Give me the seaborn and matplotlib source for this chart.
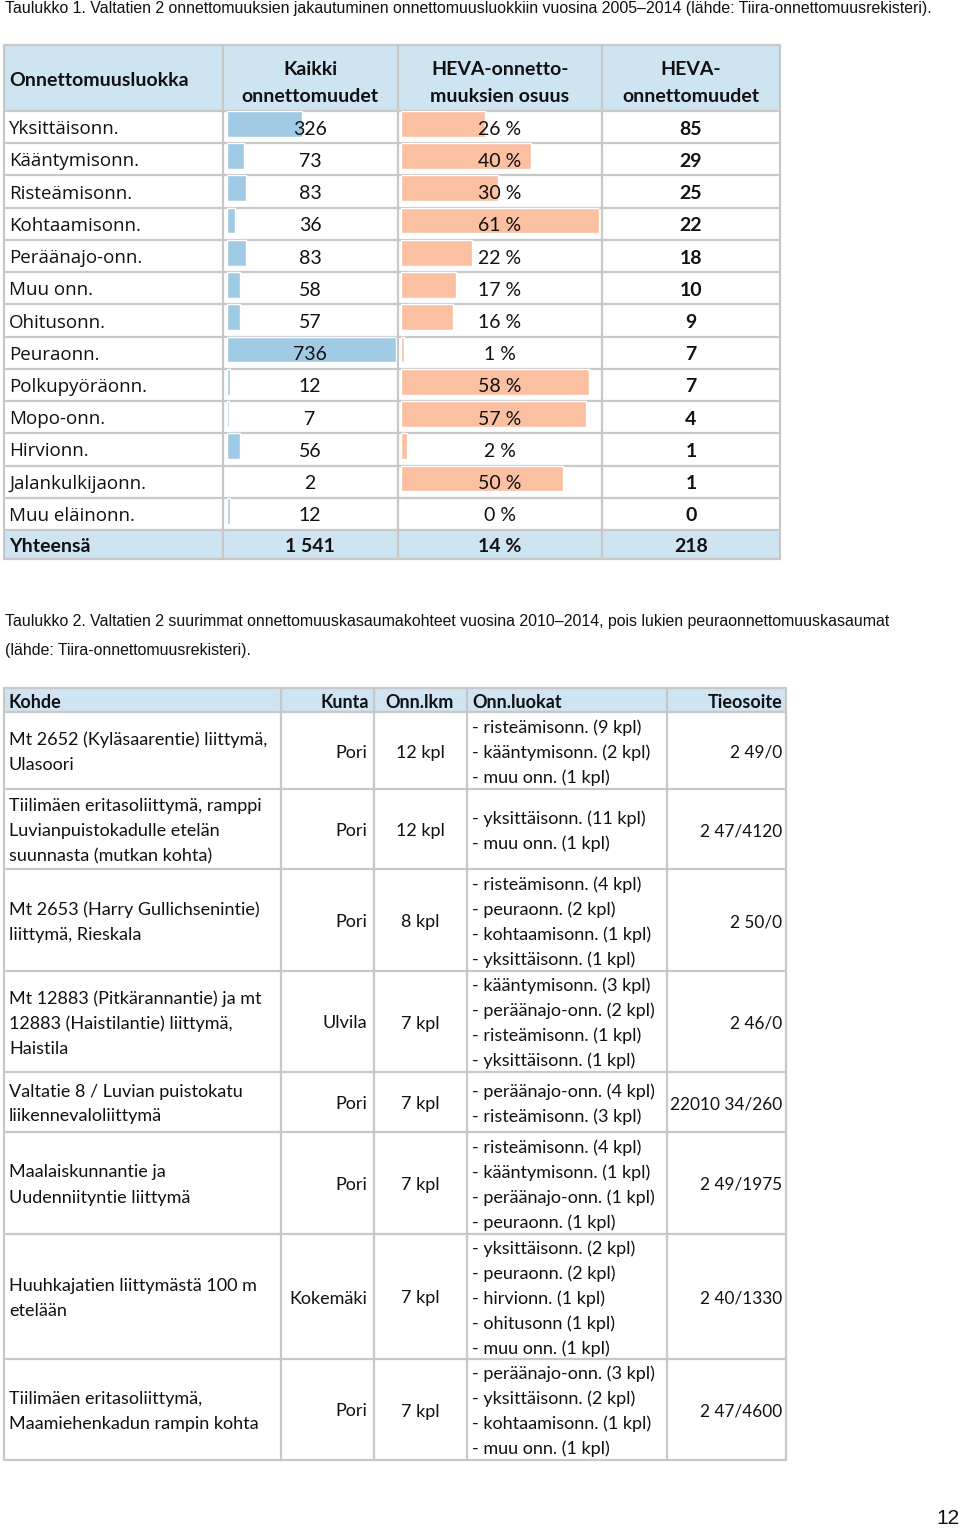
import numpy as np
import pandas as pd
import matplotlib
matplotlib.use('Agg')
import matplotlib.pyplot as plt
import seaborn as sns

## data for table 1
classes = ['Yksittäisonn.', 'Kääntymisonn.', 'Risteämisonn.', 'Kohtaamisonn.',
           'Peräänajo-onn.', 'Muu onn.', 'Ohitusonn.', 'Peuraonn.',
           'Polkupyöräonn.', 'Mopo-onn.', 'Hirvionn.', 'Jalankulkijaonn.',
           'Muu eläinonn.']
kaikki = [326, 73, 83, 36, 83, 58, 57, 736, 12, 7, 56, 2, 12]
heva_pct = [26, 40, 30, 61, 22, 17, 16, 1, 58, 57, 2, 50, 0]
heva_n = [85, 29, 25, 22, 18, 10, 9, 7, 7, 4, 1, 1, 0]
total_row = ['Yhteensä', '1 541', '14 %', '218']
headers1 = ['Onnettomuusluokka', 'Kaikki\nonnettomuudet',
            'HEVA-onnetto-\nmuuksien osuus', 'HEVA-\nonnettomuudet']

## data for table 2
headers2 = ['Kohde', 'Kunta', 'Onn.lkm', 'Onn.luokat', 'Tieosoite']
kohde = [['Mt 2652 (Kyläsaarentie) liittymä,', 'Ulasoori'],
         ['Tiilimäen eritasoliittymä, ramppi', 'Luvianpuistokadulle etelän', 'suunnasta (mutkan kohta)'],
         ['Mt 2653 (Harry Gullichsenintie)', 'liittymä, Rieskala'],
         ['Mt 12883 (Pitkärannantie) ja mt', '12883 (Haistilantie) liittymä,', 'Haistila'],
         ['Valtatie 8 / Luvian puistokatu', 'liikennevaloliittymä'],
         ['Maalaiskunnantie ja', 'Uudenniityntie liittymä'],
         ['Huuhkajatien liittymästä 100 m', 'etelään'],
         ['Tiilimäen eritasoliittymä,', 'Maamiehenkadun rampin kohta']]
kunta = ['Pori', 'Pori', 'Pori', 'Ulvila', 'Pori', 'Pori', 'Kokemäki', 'Pori']
onn_lkm = ['12 kpl', '12 kpl', '8 kpl', '7 kpl', '7 kpl', '7 kpl', '7 kpl', '7 kpl']
luokat = [['risteämisonn. (9 kpl)', 'kääntymisonn. (2 kpl)', 'muu onn. (1 kpl)'],
          ['yksittäisonn. (11 kpl)', 'muu onn. (1 kpl)'],
          ['risteämisonn. (4 kpl)', 'peuraonn. (2 kpl)', 'kohtaamisonn. (1 kpl)', 'yksittäisonn. (1 kpl)'],
          ['kääntymisonn. (3 kpl)', 'peräänajo-onn. (2 kpl)', 'risteämisonn. (1 kpl)', 'yksittäisonn. (1 kpl)'],
          ['peräänajo-onn. (4 kpl)', 'risteämisonn. (3 kpl)'],
          ['risteämisonn. (4 kpl)', 'kääntymisonn. (1 kpl)', 'peräänajo-onn. (1 kpl)', 'peuraonn. (1 kpl)'],
          ['yksittäisonn. (2 kpl)', 'peuraonn. (2 kpl)', 'hirvionn. (1 kpl)', 'ohitusonn (1 kpl)', 'muu onn. (1 kpl)'],
          ['peräänajo-onn. (3 kpl)', 'yksittäisonn. (2 kpl)', 'kohtaamisonn. (1 kpl)', 'muu onn. (1 kpl)']]
tieosoite = ['2 49/0', '2 47/4120', '2 50/0', '2 46/0', '22010 34/260',
             '2 49/1975', '2 40/1330', '2 47/4600']

caption1 = ('Taulukko 1. Valtatien 2 onnettomuuksien jakautuminen onnettomuusluokkiin '
            'vuosina 2005–2014 (lähde: Tiira-onnettomuusrekisteri).')
caption2 = ['Taulukko 2. Valtatien 2 suurimmat onnettomuuskasaumakohteet vuosina 2010–2014, '
            'pois lukien peuraonnettomuuskasaumat', '(lähde: Tiira-onnettomuusrekisteri).']

## styles
sns.set_theme(style='white')
plt.rcParams['font.family'] = ['Lato', 'DejaVu Sans']
CAP_FONT = ['Liberation Sans Narrow', 'Liberation Sans', 'DejaVu Sans']
LAB_FONT = ['Open Sans', 'DejaVu Sans']
HEAD_BG = '#cfe4f1'
BLUE = '#a1cae4'
ORANGE = '#fbbfa1'
GRID = '#c8c8c8'
TXT = '#111111'
FS1 = 14
FS2 = 13
DY = 2

W, H = 960, 1530
fig = plt.figure(figsize=(W / 100, H / 100), dpi=100)


def px_axes(x0, y0, x1, y1):
    a = fig.add_axes([x0 / W, 1 - y1 / H, (x1 - x0) / W, (y1 - y0) / H])
    a.set_facecolor('none')
    return a


bg = px_axes(0, 0, W, H)
bg.set_xlim(0, W)
bg.set_ylim(H, 0)
bg.axis('off')

## ---- table 1 background ----
t1_cols = [4, 223, 398, 602, 780]
t1_top, t1_head, t1_body_end, t1_bot = 45, 111, 530, 559
row_h = (t1_body_end - t1_head) / len(classes)
bg.fill_between([t1_cols[0], t1_cols[-1]], t1_top, t1_head, color=HEAD_BG, lw=0)
bg.fill_between([t1_cols[0], t1_cols[-1]], t1_body_end, t1_bot, color=HEAD_BG, lw=0)
for x in t1_cols:
    bg.plot([x, x], [t1_top, t1_bot], color=GRID, lw=1.6)
for i in range(len(classes) + 1):
    y = t1_head + i * row_h
    bg.plot([t1_cols[0], t1_cols[-1]], [y, y], color=GRID, lw=1.6)
for y in [t1_top, t1_bot]:
    bg.plot([t1_cols[0], t1_cols[-1]], [y, y], color=GRID, lw=1.6)

## ---- table 2 background ----
t2_cols = [4, 281, 374, 467, 667, 786]
t2_rows = [688, 712, 789, 869, 971, 1072, 1132, 1234, 1359, 1460]
bg.fill_between([t2_cols[0], t2_cols[-1]], t2_rows[0], t2_rows[1], color=HEAD_BG, lw=0)
for x in t2_cols:
    bg.plot([x, x], [t2_rows[0], t2_rows[-1]], color=GRID, lw=1.6)
for y in t2_rows:
    bg.plot([t2_cols[0], t2_cols[-1]], [y, y], color=GRID, lw=1.6)

## ---- data bars of table 1 (bars sit at the top of each row) ----
df1 = pd.DataFrame({'luokka': classes, 'kaikki': kaikki, 'osuus': heva_pct})
bax = px_axes(227, t1_head, 396, t1_body_end)
sns.barplot(data=df1, x='kaikki', y='luokka', orient='h', color=BLUE,
            saturation=1, width=0.8, ax=bax)
bax.set_xlim(0, max(kaikki))
bax.set_ylim(len(classes) - 0.4, -0.4)
bax.axis('off')

oax = px_axes(401, t1_head, 599, t1_body_end)
sns.barplot(data=df1, x='osuus', y='luokka', orient='h', color=ORANGE,
            saturation=1, width=0.8, ax=oax)
oax.set_xlim(0, max(heva_pct))
oax.set_ylim(len(classes) - 0.4, -0.4)
oax.axis('off')

## ---- text layer ----
ax = px_axes(0, 0, W, H)
ax.set_xlim(0, W)
ax.set_ylim(H, 0)
ax.axis('off')

ax.text(5, 8, caption1, fontsize=11.4, family=CAP_FONT, va='center', color=TXT)

ax.text(9, 78 + DY, headers1[0], fontsize=FS1, weight='bold', va='center', color=TXT)
for x, h in zip([310, 500, 691], headers1[1:]):
    ax.text(x, 81 + DY, h, fontsize=FS1, weight='bold', va='center', ha='center',
            color=TXT, linespacing=1.65)

for i, c in enumerate(classes):
    y = t1_head + (i + 0.5) * row_h + DY
    ax.text(9, y, c, fontsize=13.5, family=LAB_FONT, va='center', color=TXT)
    ax.text(310, y, str(kaikki[i]), fontsize=FS1, va='center', ha='center', color=TXT)
    ax.text(500, y, f'{heva_pct[i]} %', fontsize=FS1, va='center', ha='center', color=TXT)
    ax.text(691, y, str(heva_n[i]), fontsize=FS1, va='center', ha='center',
            weight='bold', color=TXT)

ty = (t1_body_end + t1_bot) / 2 + DY
ax.text(9, ty, total_row[0], fontsize=FS1, va='center', weight='bold', color=TXT)
for x, t in zip([310, 500, 691], total_row[1:]):
    ax.text(x, ty, t, fontsize=FS1, va='center', ha='center', weight='bold', color=TXT)

## table 2 texts
ax.text(5, 621, caption2[0], fontsize=11.4, family=CAP_FONT, va='center', color=TXT)
ax.text(5, 650, caption2[1], fontsize=11.4, family=CAP_FONT, va='center', color=TXT)

hy = (t2_rows[0] + t2_rows[1]) / 2 + DY
ax.text(9, hy, headers2[0], fontsize=FS2, weight='bold', va='center', color=TXT)
ax.text(369, hy, headers2[1], fontsize=FS2, weight='bold', va='center', ha='right', color=TXT)
ax.text(420, hy, headers2[2], fontsize=FS2, weight='bold', va='center', ha='center', color=TXT)
ax.text(472, hy, headers2[3], fontsize=FS2, weight='bold', va='center', color=TXT)
ax.text(782, hy, headers2[4], fontsize=FS2, weight='bold', va='center', ha='right', color=TXT)

LS = 25
for i in range(len(kohde)):
    yc = (t2_rows[i + 1] + t2_rows[i + 2]) / 2 + DY
    for j, line in enumerate(kohde[i]):
        ax.text(9, yc + (j - (len(kohde[i]) - 1) / 2) * LS, line, fontsize=FS2,
                va='center', color=TXT)
    ax.text(367, yc, kunta[i], fontsize=FS2, va='center', ha='right', color=TXT)
    ax.text(420, yc, onn_lkm[i], fontsize=FS2, va='center', ha='center', color=TXT)
    for j, line in enumerate(luokat[i]):
        ax.text(472, yc + (j - (len(luokat[i]) - 1) / 2) * LS, '- ' + line,
                fontsize=FS2, va='center', color=TXT)
    ax.text(782, yc, tieosoite[i], fontsize=12.4, va='center', ha='right', color=TXT)

ax.text(959, 1519, '12', fontsize=15, family=CAP_FONT, va='center', ha='right', color=TXT)

fig.savefig('out.png', dpi=100, facecolor='white')
